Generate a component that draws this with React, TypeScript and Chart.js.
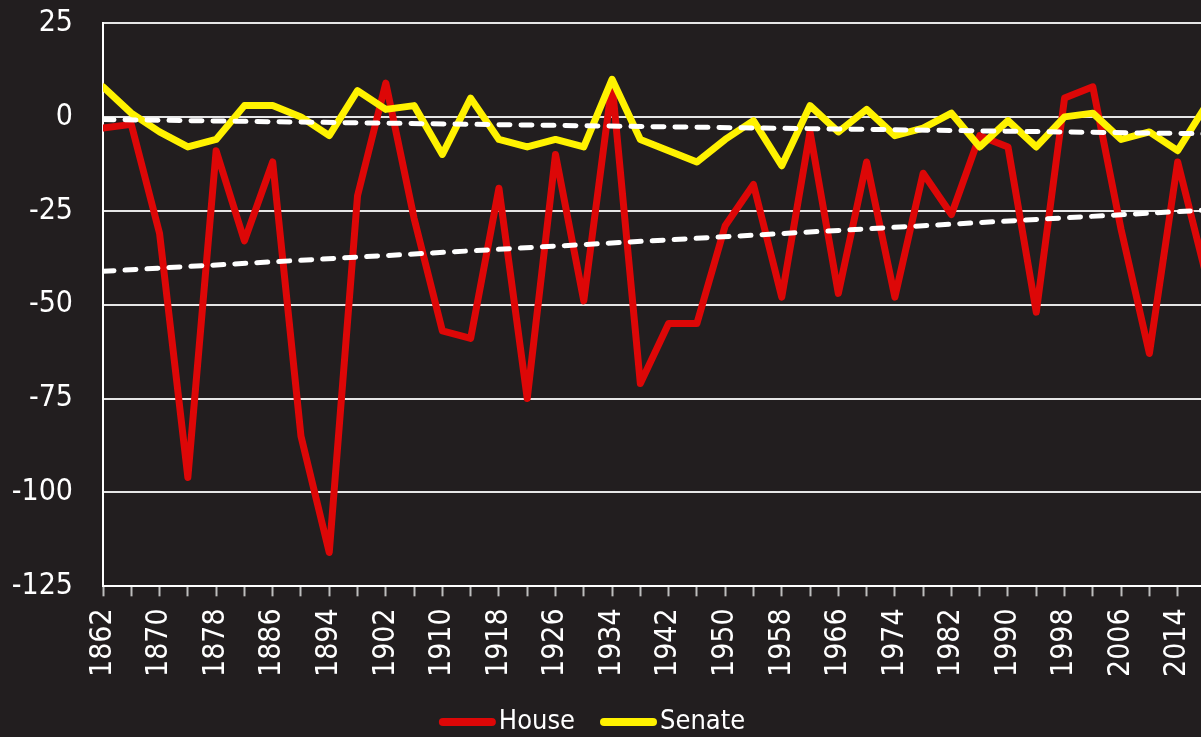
import React, { useEffect, useRef } from "react";
import { Chart, registerables } from "chart.js";

Chart.register(...registerables);

// Midterm election years
const years: number[] = [
  1862, 1866, 1870, 1874, 1878, 1882, 1886, 1890, 1894, 1898,
  1902, 1906, 1910, 1914, 1918, 1922, 1926, 1930, 1934, 1938,
  1942, 1946, 1950, 1954, 1958, 1962, 1966, 1970, 1974, 1978,
  1982, 1986, 1990, 1994, 1998, 2002, 2006, 2010, 2014, 2018,
];

// Seat changes for the president's party
const house: number[] = [
  -3, -2, -31, -96, -9, -33, -12, -85, -116, -21,
  9, -27, -57, -59, -19, -75, -10, -49, 9, -71,
  -55, -55, -29, -18, -48, -4, -47, -12, -48, -15,
  -26, -5, -8, -52, 5, 8, -30, -63, -12, -42,
];

const senate: number[] = [
  8, 1, -4, -8, -6, 3, 3, 0, -5, 7,
  2, 3, -10, 5, -6, -8, -6, -8, 10, -6,
  -9, -12, -6, -1, -13, 3, -4, 2, -5, -3,
  1, -8, -1, -8, 0, 1, -6, -4, -9, 3,
];

// Linear trend lines (endpoints)
const trendYears: number[] = [1862, 2018];
const houseTrend: number[] = [-41.1, -24.8];
const senateTrend: number[] = [-0.7, -4.5];

// Axis labels
const labeledYears: number[] = [
  1862, 1870, 1878, 1886, 1894, 1902, 1910, 1918, 1926, 1934,
  1942, 1950, 1958, 1966, 1974, 1982, 1990, 1998, 2006, 2014,
];
const yTicks: number[] = [25, 0, -25, -50, -75, -100, -125];

const X_MIN = 1862;
const X_MAX = 2017.3;
const BG = "#221e1f";
const FONT = '"DejaVu Sans Condensed", "DejaVu Sans", sans-serif';

const legendItems = [
  { label: "House", color: "#dd0707" },
  { label: "Senate", color: "#fff200" },
];

const bgPlugin = {
  id: "bg",
  beforeDraw(chart: any) {
    const ctx = chart.ctx;
    ctx.save();
    ctx.fillStyle = BG;
    ctx.fillRect(0, 0, chart.width, chart.height);
    ctx.restore();
  },
};

const legendPlugin = {
  id: "customLegend",
  afterDraw(chart: any) {
    const ctx = chart.ctx;
    ctx.save();
    ctx.font = `27px ${FONT}`;
    ctx.textBaseline = "middle";
    const lineW = 57;
    const gapText = 3;
    const gapItem = 25;
    const widths = legendItems.map((it) => lineW + gapText + ctx.measureText(it.label).width);
    const total = widths.reduce((a, b) => a + b, 0) + gapItem * (legendItems.length - 1);
    let x = 592 - total / 2;
    const y = 722;
    legendItems.forEach((it, i) => {
      ctx.strokeStyle = it.color;
      ctx.lineWidth = 8;
      ctx.lineCap = "round";
      ctx.beginPath();
      ctx.moveTo(x + 4, y);
      ctx.lineTo(x + lineW - 4, y);
      ctx.stroke();
      ctx.fillStyle = "#ffffff";
      ctx.fillText(it.label, x + lineW + gapText, y);
      x += widths[i] + gapItem;
    });
    ctx.restore();
  },
};

export default function App() {
  const ref = useRef<HTMLCanvasElement | null>(null);

  useEffect(() => {
    if (!ref.current) return;
    const toPts = (xs: number[], ys: number[]) => xs.map((x, i) => ({ x, y: ys[i] }));
    const chart = new Chart(ref.current, {
      type: "line",
      data: {
        datasets: [
          {
            label: "House",
            data: toPts(years, house),
            borderColor: "#dd0707",
            backgroundColor: "#dd0707",
            borderWidth: 7,
            borderJoinStyle: "round",
            borderCapStyle: "round",
            pointRadius: 0,
            tension: 0,
            order: 2,
          },
          {
            label: "Senate",
            data: toPts(years, senate),
            borderColor: "#fff200",
            backgroundColor: "#fff200",
            borderWidth: 7,
            borderJoinStyle: "round",
            borderCapStyle: "round",
            pointRadius: 0,
            tension: 0,
            order: 1,
          },
          {
            label: "House trend",
            data: toPts(trendYears, houseTrend),
            borderColor: "#ffffff",
            borderWidth: 5,
            borderDash: [11, 11],
            borderCapStyle: "round",
            pointRadius: 0,
            order: 0,
          },
          {
            label: "Senate trend",
            data: toPts(trendYears, senateTrend),
            borderColor: "#ffffff",
            borderWidth: 5,
            borderDash: [11, 11],
            borderCapStyle: "round",
            pointRadius: 0,
            order: 0,
          },
        ],
      },
      options: {
        animation: false,
        responsive: true,
        maintainAspectRatio: false,
        layout: { padding: { left: 13, right: 0, top: 23, bottom: 48 } },
        plugins: {
          legend: { display: false },
          tooltip: { enabled: false },
        },
        scales: {
          x: {
            type: "linear",
            min: X_MIN,
            max: X_MAX,
            afterBuildTicks: (axis: any) => {
              axis.ticks = years.filter((v) => v <= X_MAX).map((v) => ({ value: v }));
            },
            afterFit: (axis: any) => {
              axis.paddingLeft = 0;
              axis.paddingRight = 0;
            },
            ticks: {
              autoSkip: false,
              maxRotation: 90,
              minRotation: 90,
              padding: 12,
              color: "#ffffff",
              font: { family: FONT, size: 30 },
              callback: (v: any) => (labeledYears.includes(Number(v)) ? String(v) : ""),
            },
            grid: {
              drawOnChartArea: false,
              drawTicks: true,
              tickLength: 10,
              tickWidth: 2,
              tickColor: "#bdbdbd",
            },
            border: { display: true, color: "#ffffff", width: 2 },
          },
          y: {
            type: "linear",
            min: -125,
            max: 25,
            afterBuildTicks: (axis: any) => {
              axis.ticks = yTicks.map((v) => ({ value: v }));
            },
            afterFit: (axis: any) => {
              axis.width = 90;
              axis.paddingTop = 0;
              axis.paddingBottom = 0;
            },
            ticks: {
              color: "#ffffff",
              padding: 30,
              font: { family: FONT, size: 30 },
            },
            grid: {
              color: "#e6e6e6",
              lineWidth: 2,
              drawTicks: false,
            },
            border: { display: true, color: "#ffffff", width: 2 },
          },
        },
      },
      plugins: [bgPlugin, legendPlugin],
    });
    return () => chart.destroy();
  }, []);

  return (
    <div
      style={{
        position: "fixed",
        left: 0,
        top: 0,
        width: 1201,
        height: 737,
        background: BG,
        overflow: "hidden",
      }}
    >
      <canvas ref={ref} />
    </div>
  );
}
